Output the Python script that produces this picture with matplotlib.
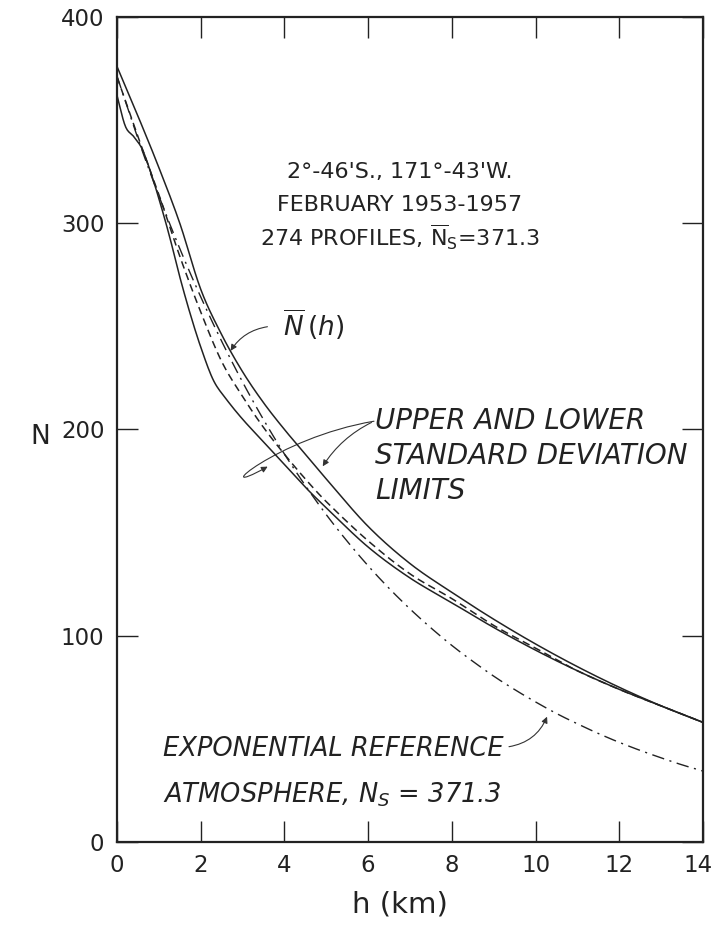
import numpy as np
import matplotlib.pyplot as plt
from matplotlib.path import Path
from matplotlib.patches import FancyArrowPatch
from matplotlib.transforms import ScaledTranslation

# values (h in km, N in N-units)
h_upper = [0, 0.5, 1, 1.5, 2, 2.5, 3, 3.5, 4, 4.5, 5, 6, 7, 8, 9, 10, 11, 12, 13, 14]
n_upper = [376, 352, 327, 300, 268, 246, 228, 213, 200, 188, 176, 153, 135, 121, 108, 96, 85, 75, 66, 58]

h_mean = [0, 0.5, 1, 1.5, 2, 2.5, 3, 3.5, 4, 4.5, 5, 6, 7, 8, 9, 10, 11, 12, 13, 14]
n_mean = [371, 342, 314, 284, 257, 233, 216, 201, 188, 176, 165, 146, 130, 118, 105, 94, 83, 74, 66, 58]

h_lower = [0, 0.2, 0.4, 0.6, 0.8, 1, 1.25, 1.5, 1.75, 2, 2.3, 2.6, 3, 3.5, 4, 4.5, 5, 6, 7, 8, 9, 10, 11, 12, 13, 14]
n_lower = [362, 347, 342, 336, 325, 312, 294, 274, 256, 240, 224, 215, 205, 194, 183, 172, 162, 143, 128, 116, 104, 93, 83, 74, 66, 58]

h_exp = [0, 0.5, 1, 1.5, 2, 2.5, 3, 3.5, 4, 4.5, 5, 5.5, 6, 6.5, 7, 7.5, 8, 8.5, 9, 9.5, 10, 10.5, 11, 11.5, 12, 12.5, 13, 13.5, 14]
n_exp = [371.3, 341.0, 313.3, 287.7, 264.3, 242.8, 223.0, 204.8, 188.1, 172.8, 158.7, 145.8, 133.9, 123.0,
         113.0, 103.8, 95.3, 87.6, 80.4, 73.9, 67.9, 62.3, 57.3, 52.6, 48.3, 44.4, 40.8, 37.4, 34.4]

x_ticks = [0, 2, 4, 6, 8, 10, 12, 14]
y_ticks = [0, 100, 200, 300, 400]

title_lines = ["2°-46'S., 171°-43'W.", "FEBRUARY 1953-1957",
               r"274 PROFILES, $\mathregular{\overline{N}_S}$=371.3"]


def smooth(xs, ys, n=400):
    # cubic hermite through the read points
    xs = np.asarray(xs, float)
    ys = np.asarray(ys, float)
    xx = np.linspace(xs[0], xs[-1], n)
    out = []
    for x in xx:
        i = min(np.searchsorted(xs, x, side='right') - 1, len(xs) - 2)
        i0, i1, i2, i3 = max(i - 1, 0), i, i + 1, min(i + 2, len(xs) - 1)
        t = (x - xs[i1]) / (xs[i2] - xs[i1])
        m1 = (ys[i2] - ys[i0]) / (xs[i2] - xs[i0]) * (xs[i2] - xs[i1])
        m2 = (ys[i3] - ys[i1]) / (xs[i3] - xs[i1]) * (xs[i2] - xs[i1])
        h00 = 2*t**3 - 3*t**2 + 1
        h10 = t**3 - 2*t**2 + t
        h01 = -2*t**3 + 3*t**2
        h11 = t**3 - t**2
        out.append(h00*ys[i1] + h10*m1 + h01*ys[i2] + h11*m2)
    return xx, np.array(out)


plt.rcParams['font.family'] = ['DejaVu Sans']
fig = plt.figure(figsize=(7.16, 9.27), dpi=100)
ax = fig.add_axes([0.1634, 0.0917, 0.8184, 0.890])

ax.plot(*smooth(h_upper, n_upper), color='#222222', lw=1.1)
ax.plot(*smooth(h_lower, n_lower), color='#222222', lw=1.1)
ax.plot(*smooth(h_mean, n_mean), color='#222222', lw=1.1, dashes=(5, 3))
ax.plot(*smooth(h_exp, n_exp), color='#222222', lw=1.0, dashes=(9, 4, 1.5, 4))

ax.set_xlim(0, 14)
ax.set_ylim(0, 400)
ax.set_xticks(x_ticks)
ax.set_yticks(y_ticks)
ax.set_xticklabels([str(v) for v in x_ticks])
ax.set_yticklabels([str(v) for v in y_ticks])
ax.tick_params(direction='in', length=15, width=1.0, top=True, right=True,
               labelsize=16.5, colors='#222222', pad=9)
last = ax.get_xticklabels()[-1]
last.set_transform(last.get_transform() + ScaledTranslation(-0.05, 0, fig.dpi_scale_trans))
for s in ax.spines.values():
    s.set_linewidth(1.6)
    s.set_color('#222222')

fig.text(40 / 716, 1 - 437 / 927, "N", fontsize=19, ha='center', va='center', color='#222222')
fig.text(400 / 716, 1 - 905 / 927, "h (km)", fontsize=21, ha='center', va='center', color='#222222')

for line, y in zip(title_lines, [325, 309, 293]):
    ax.text(6.76, y, line, fontsize=16, ha='center', va='center', color='#222222')

ital = dict(fontsize=20, style='italic', color='#222222', va='center', ha='left')
ax.text(3.97, 251, r"$\overline{N}\,(h)$", fontsize=19, color='#222222', va='center', ha='left')
ax.annotate("", xy=(2.68, 237), xytext=(3.66, 250),
            arrowprops=dict(arrowstyle='-|>', lw=0.8, color='#333333',
                            connectionstyle='arc3,rad=0.25', mutation_scale=9))

ax.text(6.16, 204, "UPPER AND LOWER", **ital)
ax.text(6.16, 187, "STANDARD DEVIATION", **ital)
ax.text(6.16, 170, "LIMITS", **ital)
ax.annotate("", xy=(4.88, 181), xytext=(6.14, 204),
            arrowprops=dict(arrowstyle='-|>', lw=0.8, color='#333333',
                            connectionstyle='arc3,rad=0.15', mutation_scale=9))
loop = Path([(6.14, 204), (3.8, 196), (2.1, 165), (3.6, 182)],
            [Path.MOVETO, Path.CURVE4, Path.CURVE4, Path.CURVE4])
ax.add_patch(FancyArrowPatch(path=loop, arrowstyle='-|>', lw=0.8, color='#333333',
                             mutation_scale=9))

ital_small = dict(ital, fontsize=18.5)
ax.text(1.1, 45, "EXPONENTIAL REFERENCE", **ital_small)
ax.text(1.1, 23, r"ATMOSPHERE, $N_S$ = 371.3", **ital_small)
ax.annotate("", xy=(10.3, 62), xytext=(9.3, 46),
            arrowprops=dict(arrowstyle='-|>', lw=0.8, color='#333333',
                            connectionstyle='arc3,rad=0.3', mutation_scale=9))

fig.savefig("out.png", dpi=100, facecolor='white')
